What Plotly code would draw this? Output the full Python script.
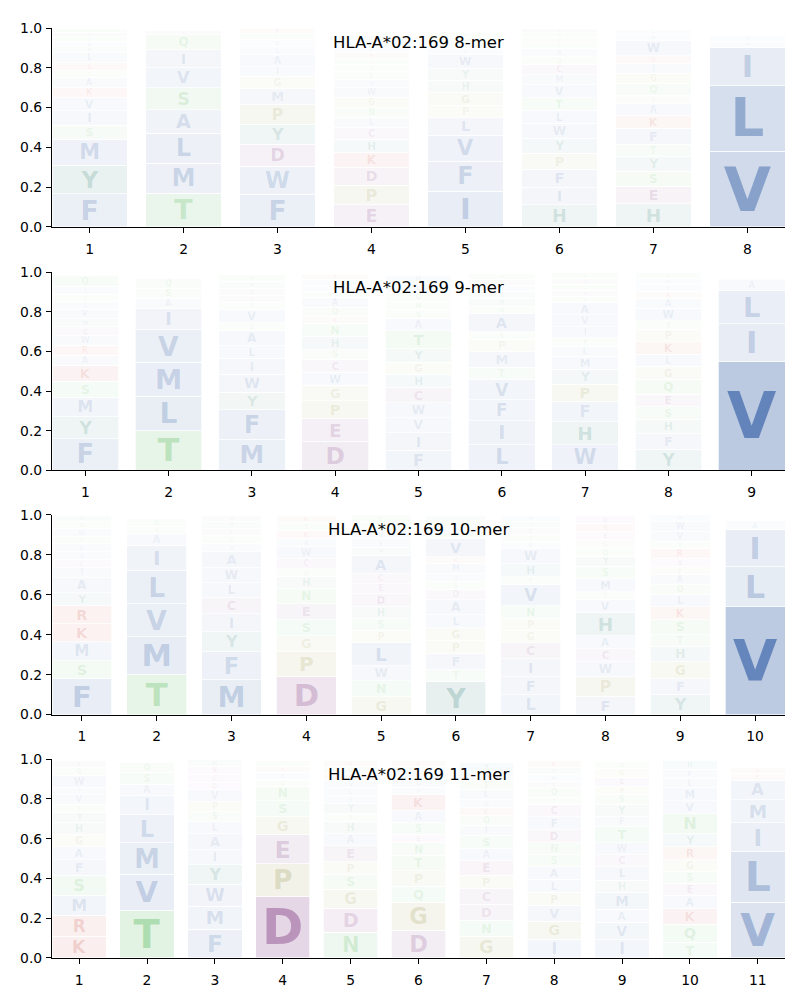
import plotly.graph_objects as go

# ---------------- data: stacked letters (bottom -> top) and heights ----------------
positions_8mer = [1, 2, 3, 4, 5, 6, 7, 8]
letters_8mer = ["FYMSIVKATRLHWQEN", "TMLASVIQE", "FWDYPMGIALVSK", "EPDKHCLNGWVSQTRAMY",
                "IFVLPGHYWAMST", "HIFPYWLTVMCQASGNE", "HESYTFKAPQGIRWMVN", "VLIMA"]
heights_8mer = [
    [.166, .144, .13, .07, .075, .065, .05, .05, .035, .04, .05, .03, .025, .025, .02, .02],
    [.17, .15, .15, .12, .11, .10, .09, .075, .02],
    [.165, .14, .11, .10, .10, .08, .06, .05, .06, .04, .035, .03, .03],
    [.11, .10, .09, .075, .065, .06, .05, .05, .05, .05, .04, .04, .035, .03, .03, .03, .03, .025],
    [.18, .15, .13, .09, .06, .065, .06, .06, .07, .03, .03, .025, .025],
    [.11, .09, .09, .08, .075, .075, .065, .065, .065, .05, .05, .04, .04, .03, .025, .025, .02],
    [.115, .09, .075, .075, .06, .08, .065, .06, .04, .06, .05, .05, .04, .075, .03, .025, .01],
    [.38, .33, .19, .03, .03],
]

positions_9mer = [1, 2, 3, 4, 5, 6, 7, 8, 9]
letters_9mer = ["FYMSKARWCHVLTIQ", "TLMVIASQ", "MFYWILASVTEDHN", "DEPGWCSHNKQATVLR",
                "FIVWCHGYTASNQLM", "LIFVTMPSANHYWEQ", "WHFPYMLTIVASEQDN",
                "YFHSEQGLKPTWARVMN", "VILA"]
heights_9mer = [
    [.16, .11, .10, .08, .08, .05, .05, .05, .045, .04, .05, .04, .035, .04, .055],
    [.20, .175, .17, .165, .11, .05, .05, .05],
    [.155, .15, .09, .09, .08, .065, .075, .04, .065, .04, .035, .035, .035, .035],
    [.145, .115, .09, .08, .065, .065, .05, .065, .065, .035, .05, .05, .03, .03, .03, .025],
    [.10, .09, .075, .075, .08, .065, .06, .07, .09, .06, .045, .045, .045, .045, .04],
    [.13, .12, .105, .105, .06, .08, .06, .04, .09, .04, .04, .035, .03, .03, .03],
    [.13, .115, .10, .09, .075, .065, .05, .045, .055, .06, .065, .03, .03, .03, .03, .03],
    [.105, .08, .07, .065, .065, .075, .065, .06, .065, .06, .045, .065, .05, .035, .035, .03, .03],
    [.55, .19, .17, .055],
]

positions_10mer = [1, 2, 3, 4, 5, 6, 7, 8, 9, 10]
letters_10mer = ["FSMKRYAICVLTWQH", "TMVLIASQ", "MFYICLWAVSEHD", "DPGSENHQCWAKTR",
                 "GNWLPSHDECAYIVTQ", "YTFPGLADSIMKVNWQH", "LFICGPNVTHWASEYM",
                 "FPWCAHVTMSYQGERD", "YFGHTSKLQAPERNVWM", "VLIA"]
heights_10mer = [
    [.18, .09, .095, .09, .09, .065, .075, .05, .04, .04, .04, .035, .04, .035, .03],
    [.20, .19, .165, .165, .125, .06, .035, .04],
    [.175, .14, .10, .09, .08, .075, .075, .08, .04, .04, .035, .035, .03],
    [.19, .125, .08, .08, .08, .075, .06, .04, .05, .06, .04, .04, .04, .035],
    [.09, .08, .075, .115, .06, .06, .06, .065, .05, .05, .09, .04, .045, .04, .04, .04],
    [.165, .06, .08, .065, .065, .065, .075, .05, .04, .04, .05, .035, .09, .03, .03, .03, .025],
    [.10, .09, .09, .08, .06, .06, .065, .105, .04, .065, .075, .035, .035, .035, .03, .03],
    [.09, .10, .075, .065, .065, .115, .065, .04, .065, .06, .05, .045, .04, .04, .04, .04],
    [.10, .08, .085, .075, .06, .075, .065, .06, .05, .05, .04, .04, .05, .035, .05, .05, .035],
    [.54, .20, .185, .045],
]

positions_11mer = [1, 2, 3, 4, 5, 6, 7, 8, 9, 10, 11]
letters_11mer = ["KRMSFAGHYTVIWQE", "TVMLIASQ", "FMWYIALSPVDCEH", "DPEGSNQAKT",
                 "NDGSPEAHTYILVKQR", "DGQPTNESAKILVHR", "GNDCPEASIQKVLTMY",
                 "IGVPLASNDFCTQEMHK", "IVAMHLCWTFYSPEGQ", "TQKAESGRYNVMLFH", "VLIMAKR"]
heights_11mer = [
    [.11, .105, .10, .10, .08, .065, .06, .06, .05, .04, .05, .04, .06, .04, .035],
    [.24, .18, .16, .14, .095, .06, .06, .05],
    [.145, .115, .11, .10, .075, .08, .06, .05, .05, .06, .04, .04, .04, .035],
    [.31, .165, .145, .09, .08, .075, .035, .035, .03, .03],
    [.13, .12, .095, .075, .065, .08, .06, .06, .04, .05, .04, .04, .04, .035, .035, .03],
    [.14, .14, .08, .08, .075, .065, .04, .06, .06, .08, .04, .04, .035, .03, .03],
    [.11, .08, .08, .08, .065, .075, .06, .065, .05, .05, .04, .04, .05, .05, .045, .045],
    [.095, .09, .08, .065, .065, .065, .06, .06, .065, .065, .06, .035, .05, .035, .035, .035, .035],
    [.095, .085, .065, .085, .06, .07, .06, .06, .08, .05, .06, .05, .045, .045, .045, .035],
    [.08, .09, .08, .065, .06, .06, .06, .065, .065, .10, .065, .065, .05, .045, .045],
    [.28, .255, .145, .115, .10, .035, .03],
]

titles = ["HLA-A*02:169 8-mer", "HLA-A*02:169 9-mer", "HLA-A*02:169 10-mer", "HLA-A*02:169 11-mer"]
y_ticks = [0.0, 0.2, 0.4, 0.6, 0.8, 1.0]

# ---------------- style ----------------
group_rgb = {
    "blue": (76, 114, 176),
    "teal": (45, 125, 112),
    "green": (80, 180, 85),
    "olive": (145, 145, 65),
    "purple": (132, 65, 135),
    "red": (190, 45, 30),
}
residue_group = {}
for aa in "AFILMVW":
    residue_group[aa] = "blue"
for aa in "YH":
    residue_group[aa] = "teal"
for aa in "STNQ":
    residue_group[aa] = "green"
for aa in "GP":
    residue_group[aa] = "olive"
for aa in "DEC":
    residue_group[aa] = "purple"
for aa in "KR":
    residue_group[aa] = "red"


def rgba(aa, alpha):
    r, g, b = group_rgb[residue_group[aa]]
    return f"rgba({r},{g},{b},{alpha:.3f})"


panels = [
    (titles[0], positions_8mer, letters_8mer, heights_8mer),
    (titles[1], positions_9mer, letters_9mer, heights_9mer),
    (titles[2], positions_10mer, letters_10mer, heights_10mer),
    (titles[3], positions_11mer, letters_11mer, heights_11mer),
]

domains = [(0.7862, 1.0), (0.5245, 0.7372), (0.2617, 0.4766), (0.0, 0.2138)]
PANEL_PX = 201.0      # pixel height of one panel (y from 0 to 1)
PLOT_W_PX = 738.0     # pixel width of the plotting area
FONT = "DejaVu Sans"

fig = go.Figure()
layout_axes = {}
annotations = []

for p, (title, pos, letters, heights) in enumerate(panels):
    suffix = "" if p == 0 else str(p + 1)
    xa, ya = "x" + suffix, "y" + suffix
    n = len(pos)
    col_px = 0.8 * PLOT_W_PX / (n - 0.2)
    maxlen = max(len(s) for s in letters)
    for k in range(maxlen):
        xs, ys, txt, fill, tcol, tsize = [], [], [], [], [], []
        for i in range(n):
            if k < len(letters[i]):
                aa, h = letters[i][k], heights[i][k]
                a = min(0.85, max(0.04, 1.25 * h))
                xs.append(pos[i])
                ys.append(h)
                txt.append(aa)
                fill.append(rgba(aa, a * 0.55))
                tcol.append(rgba(aa, min(1.0, a * 1.15)))
                tsize.append(max(3.0, min(h * PANEL_PX / 1.25, col_px * 0.95)))
        fig.add_trace(go.Bar(
            x=xs, y=ys, text=txt, width=0.8,
            marker=dict(color=fill, line=dict(color="white", width=0.7)),
            textposition="inside", insidetextanchor="middle", textangle=0,
            constraintext="none",
            textfont=dict(family=FONT, size=tsize, color=tcol, weight="bold"),
            xaxis=xa, yaxis=ya, showlegend=False, hoverinfo="skip",
        ))
    layout_axes["xaxis" + suffix] = dict(
        domain=[0, 1], anchor=ya, range=[0.6, n + 0.4],
        tickmode="array", tickvals=pos, ticktext=[str(v) for v in pos],
        showline=True, linecolor="black", linewidth=1.1, ticks="outside",
        ticklen=5, tickwidth=1.1, tickcolor="black", showgrid=False, zeroline=False,
        ticklabelstandoff=4,
        tickfont=dict(family=FONT, size=13.9, color="black"), fixedrange=True,
    )
    layout_axes["yaxis" + suffix] = dict(
        domain=list(domains[p]), anchor=xa, range=[0, 1],
        tickmode="array", tickvals=y_ticks, ticktext=[f"{v:.1f}" for v in y_ticks],
        showline=True, linecolor="black", linewidth=1.1, ticks="outside",
        ticklen=5, tickwidth=1.1, tickcolor="black", showgrid=False, zeroline=False,
        ticklabelstandoff=1,
        tickfont=dict(family=FONT, size=13.9, color="black"), fixedrange=True,
    )
    annotations.append(dict(
        text=title, xref=xa + " domain", yref=ya + " domain", x=0.5, y=0.925,
        xanchor="center", yanchor="middle", showarrow=False,
        font=dict(family=FONT, size=16.5, color="black"),
    ))

# the page body adds an 8 px offset; size the figure so the plot areas land where the reference has them
fig.update_layout(
    width=792, height=992,
    margin=dict(l=39, r=15, t=13, b=39),
    paper_bgcolor="white", plot_bgcolor="white",
    barmode="stack",
    annotations=annotations,
    **layout_axes,
)

fig.write_html("out.html")
